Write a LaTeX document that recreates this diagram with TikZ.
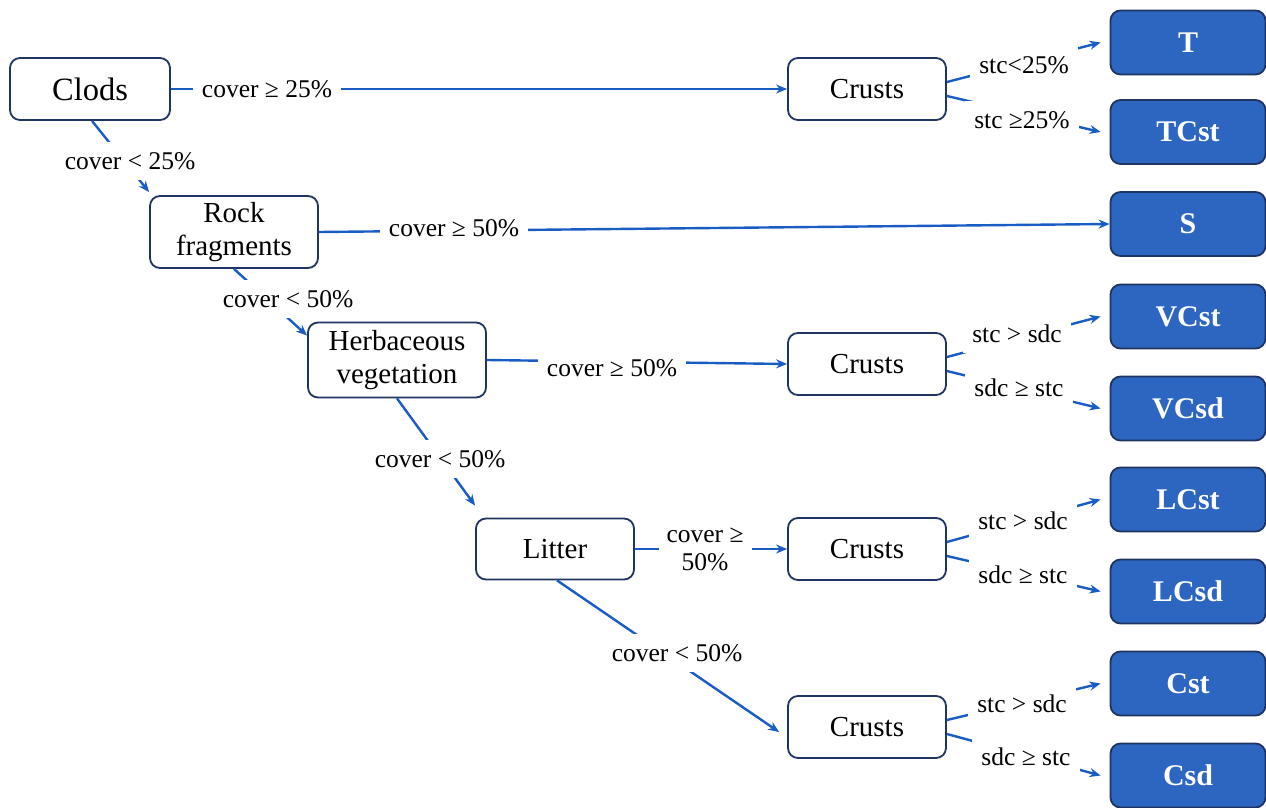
\documentclass[tikz,border=0pt]{standalone}
\usepackage{fontspec}
\setmainfont{Liberation Serif}
\usetikzlibrary{arrows.meta}
\definecolor{boxblue}{RGB}{44,102,192}
\definecolor{boxedge}{RGB}{32,52,98}
\definecolor{linkblue}{RGB}{25,92,195}
\tikzset{
  wbox/.style={draw=boxedge, line width=1.8pt, rounded corners=10pt, fill=white, align=center,
    font=\fontsize{29}{33}\selectfont, inner sep=0pt},
  bbox/.style={draw=boxedge, line width=1.8pt, rounded corners=10pt, fill=boxblue, text=white,
    minimum width=155pt, minimum height=64pt, font=\fontsize{30}{33}\selectfont\bfseries, inner sep=0pt},
  link/.style={draw=linkblue, line width=2.4pt, -{Stealth[length=11pt,width=9pt]}},
  lab/.style={fill=white, inner xsep=9pt, inner ysep=10pt, align=center,
    font=\fontsize{25.5}{28}\selectfont},
}
\begin{document}
\begin{tikzpicture}[x=1pt,y=-1pt]
\useasboundingbox (0,0) rectangle (1266,808);
% white boxes
\node[wbox, minimum width=160pt, minimum height=62pt, font=\fontsize{32.5}{33}\selectfont] (clods) at (90,89) {Clods};
\node[wbox, minimum width=168pt, minimum height=72pt] (rock) at (234,232) {Rock\\fragments};
\node[wbox, minimum width=178pt, minimum height=75pt] (herb) at (397,360) {Herbaceous\\vegetation};
\node[wbox, minimum width=158pt, minimum height=61pt] (litter) at (555,549) {Litter};
\node[wbox, minimum width=158pt, minimum height=62pt] (c1) at (867,89) {Crusts};
\node[wbox, minimum width=158pt, minimum height=62pt] (c2) at (867,364) {Crusts};
\node[wbox, minimum width=158pt, minimum height=62pt] (c3) at (867,549) {Crusts};
\node[wbox, minimum width=158pt, minimum height=62pt] (c4) at (867,727) {Crusts};
% blue boxes
\node[bbox] (T) at (1188,42.5) {T};
\node[bbox] (TCst) at (1188,132) {TCst};
\node[bbox] (S) at (1188,224) {S};
\node[bbox] (VCst) at (1188,316.5) {VCst};
\node[bbox] (VCsd) at (1188,408.5) {VCsd};
\node[bbox] (LCst) at (1188,499.5) {LCst};
\node[bbox] (LCsd) at (1188,591.5) {LCsd};
\node[bbox] (Cst) at (1188,683.5) {Cst};
\node[bbox] (Csd) at (1188,775.5) {Csd};
% connectors
\draw[link] (clods.east) -- (c1.west);
\draw[link] ([xshift=2pt]clods.south) -- ([yshift=3pt]rock.north west);
\draw[link] (rock.east) -- (S.west);
\draw[link] (rock.south) -- ([yshift=-14pt]herb.north west);
\draw[link] (herb.east) -- (c2.west);
\draw[link] (herb.south) -- ([yshift=12pt]litter.north west);
\draw[link] (litter.east) -- (c3.west);
\draw[link] ([xshift=2pt]litter.south) -- ([xshift=-8pt,yshift=-5pt]c4.west);
\foreach \c/\a/\b in {c1/T/TCst, c2/VCst/VCsd, c3/LCst/LCsd, c4/Cst/Csd}{
  \draw[link] ([yshift=7pt]\c.east) -- ([xshift=-9pt]\a.west);
  \draw[link] ([yshift=-7pt]\c.east) -- ([xshift=-9pt]\b.west);
}
% labels
\node[lab] (l1) at (267,89) {cover ≥ 25\%};
\node[lab] (l2) at (130,161) {cover < 25\%};
\node[lab] (l3) at (454,228) {cover ≥ 50\%};
\node[lab] (l4) at (288,299) {cover < 50\%};
\node[lab] (l5) at (612,368) {cover ≥ 50\%};
\node[lab] (l6) at (440,459) {cover < 50\%};
\node[lab, inner xsep=8pt] (l7) at (705,549) {cover ≥\\50\%};
\node[lab] (l8) at (677,653) {cover < 50\%};
\node[lab] (s1) at (1024,65) {stc<25\%};
\node[lab] (s2) at (1022,120) {stc ≥25\%};
\node[lab] (s3) at (1017,334) {stc > sdc};
\node[lab] (s4) at (1019,388) {sdc ≥ stc};
\node[lab] (s5) at (1023,521) {stc > sdc};
\node[lab] (s6) at (1023,575) {sdc ≥ stc};
\node[lab] (s7) at (1022,704) {stc > sdc};
\node[lab] (s8) at (1026,757) {sdc ≥ stc};
\end{tikzpicture}
\end{document}
